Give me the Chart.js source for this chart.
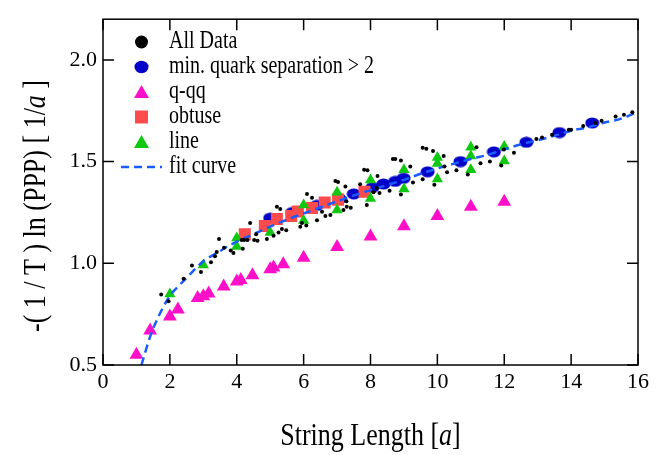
<!DOCTYPE html>
<html>
<head>
<meta charset="utf-8">
<script src="https://cdn.jsdelivr.net/npm/chart.js@4/dist/chart.umd.min.js"></script>
<style>
  body { margin: 0; background: #fff; }
  canvas { display: block; }
</style>
</head>
<body>
<canvas id="myChart" width="665" height="455"></canvas>
<script>
// tick labels
const xTicks = [0, 2, 4, 6, 8, 10, 12, 14, 16];
const yTicks = [0.5, 1.0, 1.5, 2.0];

// All Data (small black dots)
const allX = [1.74, 1.96, 2.41, 2.66, 2.93, 3.23, 3.35, 3.40, 3.47, 3.62, 3.82, 3.90, 4.18, 4.15, 4.22, 4.32,
  4.40, 4.52, 4.62, 4.58, 4.90, 5.10, 5.25, 5.35, 5.48, 5.20, 5.30, 5.90, 5.95, 6.08, 6.10, 6.25,
  6.40, 6.55, 6.65, 6.80, 6.95, 7.03, 7.19, 7.29, 7.41, 7.28, 7.25, 7.69, 7.81, 7.91, 7.89, 8.09,
  8.21, 8.19, 8.27, 8.57, 8.67, 8.74, 8.91, 8.91, 9.19, 9.27, 9.56, 9.67, 9.56, 9.87, 9.91, 10.19,
  10.21, 10.29, 10.57, 10.91, 11.17, 11.29, 11.57, 11.91, 11.99, 12.29, 12.96, 13.13, 13.43, 13.93,
  14.00, 14.36, 14.73, 14.91, 15.33, 15.58, 15.83];
const allY = [0.846, 0.813, 0.924, 0.989, 0.957, 1.005, 1.035, 1.056, 1.119, 1.076, 1.063, 1.050, 1.071, 1.114, 1.114, 1.114,
  1.198, 1.114, 1.111, 1.143, 1.119, 1.135, 1.151, 1.169, 1.162, 1.278, 1.267, 1.180, 1.198, 1.186, 1.341, 1.322,
  1.211, 1.254, 1.233, 1.238, 1.405, 1.400, 1.262, 1.278, 1.273, 1.305, 1.378, 1.389, 1.460, 1.457, 1.286, 1.349,
  1.429, 1.370, 1.346, 1.357, 1.513, 1.513, 1.505, 1.338, 1.476, 1.397, 1.568, 1.563, 1.413, 1.552, 1.386, 1.527,
  1.476, 1.448, 1.457, 1.436, 1.571, 1.492, 1.500, 1.481, 1.559, 1.543, 1.611, 1.619, 1.632, 1.656,
  1.656, 1.675, 1.690, 1.701, 1.722, 1.730, 1.743];

// min. quark separation > 2
const minSepX = [5.00, 5.66, 6.40, 7.07, 7.50, 8.06, 8.39, 8.74, 8.99, 9.71, 10.69, 11.69, 12.66, 13.65, 14.63];
const minSepY = [1.222, 1.250, 1.285, 1.317, 1.341, 1.373, 1.390, 1.403, 1.418, 1.450, 1.500, 1.548, 1.595, 1.643, 1.690];

// q-qq
const qqqX = [1.00, 1.41, 2.00, 2.24, 2.83, 3.00, 3.16, 3.61, 4.00, 4.12, 4.47, 5.00, 5.10, 5.39, 6.00, 7.00, 8.00, 9.00, 10.00, 11.00, 12.00];
const qqqY = [0.551, 0.670, 0.738, 0.773, 0.829, 0.838, 0.852, 0.886, 0.910, 0.918, 0.941, 0.971, 0.979, 0.995, 1.027, 1.080, 1.132, 1.182, 1.233, 1.278, 1.303];

// obtuse
const obtuseX = [4.24, 4.84, 5.20, 5.63, 5.83, 6.25, 6.63, 7.03, 7.82];
const obtuseY = [1.143, 1.183, 1.218, 1.233, 1.255, 1.272, 1.299, 1.313, 1.352];

// line
const lineX = [2, 3, 4, 4, 5, 6, 6, 7, 7, 8, 8, 9, 9, 10, 10, 10, 11, 11, 11, 12, 12];
const lineY = [0.849, 0.992, 1.124, 1.082, 1.151, 1.286, 1.210, 1.349, 1.262, 1.410, 1.318, 1.460, 1.365, 1.520, 1.490, 1.415, 1.571, 1.527, 1.460, 1.574, 1.503];

// fit curve
const fitX = [1.15, 1.40, 1.65, 2.00, 2.30, 2.55, 3.00, 3.40, 3.70, 4.05, 4.50, 5.00, 5.50, 6.00, 6.50, 7.00, 7.50,
  8.00, 8.50, 9.00, 9.50, 10.00, 10.50, 11.00, 11.50, 12.00, 12.50, 13.00, 13.50, 14.00, 14.50, 15.00, 15.50, 16.00];
const fitY = [0.500, 0.635, 0.735, 0.840, 0.895, 0.937, 1.010, 1.050, 1.080, 1.110, 1.143, 1.180, 1.215, 1.245, 1.275, 1.305, 1.333,
  1.360, 1.385, 1.410, 1.440, 1.466, 1.490, 1.513, 1.533, 1.560, 1.585, 1.605, 1.627, 1.652, 1.668, 1.692, 1.711, 1.745];

const seriesNames = ['All Data', 'min. quark separation > 2', 'q-qq', 'obtuse', 'line', 'fit curve'];

const BLACK = '#000000';
const BLUE = '#0000c8';
const PINK = '#ff10c8';
const RED = '#ff4b4b';
const GREEN = '#10c810';
const FIT = '#1a5cff';

const pts = (xs, ys) => xs.map((x, i) => ({ x: x, y: ys[i] }));

// ellipse marker for the blue points
function ellipseImage(w, h, color) {
    const c = document.createElement('canvas');
    c.width = w; c.height = h;
    const g = c.getContext('2d');
    g.fillStyle = color;
    g.beginPath();
    g.ellipse(w / 2, h / 2, w / 2 - 0.5, h / 2 - 0.5, 0, 0, Math.PI * 2);
    g.fill();
    return c;
}

// text with mixed roman / italic parts, slightly stretched like the original
function drawParts(ctx, parts, size, x, y, align, rot) {
    ctx.save();
    ctx.translate(x, y);
    if (rot) ctx.rotate(rot);
    ctx.scale(1, 1.22);
    const fontOf = st => st + ' ' + size + 'px "Liberation Serif", "Times New Roman", serif';
    let w = 0;
    parts.forEach(p => { ctx.font = fontOf(p[1]); w += ctx.measureText(p[0]).width; });
    let xx = align === 'center' ? -w / 2 : 0;
    ctx.fillStyle = '#000';
    ctx.textBaseline = 'middle';
    ctx.textAlign = 'left';
    parts.forEach(p => {
        ctx.font = fontOf(p[1]);
        ctx.fillText(p[0], xx, 0);
        xx += ctx.measureText(p[0]).width;
    });
    ctx.restore();
}

const framePlugin = {
    id: 'frame',
    afterDraw(chart) {
        const { ctx, chartArea: a, scales } = chart;
        const sx = scales.x, sy = scales.y;
        ctx.save();
        // box
        ctx.strokeStyle = '#000';
        ctx.lineWidth = 1.5;
        ctx.strokeRect(a.left, a.top, a.right - a.left, a.bottom - a.top);
        // inward ticks on all four sides
        ctx.beginPath();
        xTicks.forEach(v => {
            const p = sx.getPixelForValue(v);
            ctx.moveTo(p, a.bottom); ctx.lineTo(p, a.bottom - 11);
            ctx.moveTo(p, a.top); ctx.lineTo(p, a.top + 11);
        });
        yTicks.forEach(v => {
            const p = sy.getPixelForValue(v);
            ctx.moveTo(a.left, p); ctx.lineTo(a.left + 11, p);
            ctx.moveTo(a.right, p); ctx.lineTo(a.right - 11, p);
        });
        ctx.stroke();

        // legend
        const mx = 141.5, tx = 169;
        seriesNames.forEach((name, i) => {
            const cy = 42 + i * 25;
            ctx.fillStyle = '#000';
            ctx.beginPath();
            if (i === 0) {
                ctx.fillStyle = BLACK;
                ctx.arc(mx, cy, 6.5, 0, Math.PI * 2);
                ctx.fill();
            } else if (i === 1) {
                ctx.fillStyle = BLUE;
                ctx.ellipse(mx, cy, 7, 6.2, 0, 0, Math.PI * 2);
                ctx.fill();
            } else if (i === 2 || i === 4) {
                ctx.fillStyle = i === 2 ? PINK : GREEN;
                ctx.moveTo(mx, cy - 7);
                ctx.lineTo(mx + 7.5, cy + 6);
                ctx.lineTo(mx - 7.5, cy + 6);
                ctx.closePath();
                ctx.fill();
            } else if (i === 3) {
                ctx.fillStyle = RED;
                ctx.fillRect(mx - 6.5, cy - 6.5, 13, 13);
            } else {
                ctx.strokeStyle = FIT;
                ctx.lineWidth = 2.5;
                ctx.setLineDash([8, 5]);
                ctx.moveTo(121, cy);
                ctx.lineTo(162, cy);
                ctx.stroke();
                ctx.setLineDash([]);
            }
            drawParts(ctx, [[name, 'normal']], 20, tx, cy, 'left');
        });

        // axis titles
        drawParts(ctx, [['String Length [', 'normal'], ['a', 'italic'], [']', 'normal']], 26,
            (a.left + a.right) / 2, 437, 'center');
        drawParts(ctx, [['-( 1 / T ) ln (PPP) [ 1/', 'normal'], ['a', 'italic'], [' ]', 'normal']], 26,
            37, 206, 'center', -Math.PI / 2);
        ctx.restore();
    }
};

const tickFont = { family: '"Liberation Serif", "Times New Roman", serif', size: 22 };

const ctx = document.getElementById('myChart').getContext('2d');
const chart = new Chart(ctx, {
    type: 'scatter',
    data: {
        datasets: [
            { label: seriesNames[0], data: pts(allX, allY), order: 0,
              pointStyle: 'circle', pointRadius: 2, pointBorderWidth: 0, backgroundColor: BLACK },
            { label: seriesNames[5], data: pts(fitX, fitY), order: 1, showLine: true,
              borderColor: FIT, borderWidth: 2.5, borderDash: [8, 5], pointRadius: 0,
              cubicInterpolationMode: 'monotone', fill: false },
            { label: seriesNames[4], data: pts(lineX, lineY), order: 2,
              pointStyle: 'triangle', pointRadius: 6.5, pointBorderWidth: 0, backgroundColor: GREEN },
            { label: seriesNames[3], data: pts(obtuseX, obtuseY), order: 3,
              pointStyle: 'rect', pointRadius: 8.5, pointBorderWidth: 0, backgroundColor: RED },
            { label: seriesNames[2], data: pts(qqqX, qqqY), order: 4,
              pointStyle: 'triangle', pointRadius: 8, pointBorderWidth: 0, backgroundColor: PINK },
            { label: seriesNames[1], data: pts(minSepX, minSepY), order: 5,
              pointStyle: ellipseImage(15, 12, BLUE), pointRadius: 7, backgroundColor: BLUE }
        ]
    },
    options: {
        responsive: false,
        animation: false,
        events: [],
        layout: { padding: { top: 8, right: 27, left: 0, bottom: 0 } },
        plugins: {
            legend: { display: false },
            tooltip: { enabled: false }
        },
        scales: {
            x: {
                type: 'linear', min: 0, max: 16,
                afterBuildTicks: s => { s.ticks = xTicks.map(v => ({ value: v })); },
                afterFit: s => { s.height = 90; },
                grid: { display: false, drawTicks: false },
                border: { display: false },
                ticks: { font: tickFont, color: '#000', padding: 4, maxRotation: 0,
                         callback: v => String(v) }
            },
            y: {
                type: 'linear', min: 0.5, max: 2.2,
                afterBuildTicks: s => { s.ticks = yTicks.map(v => ({ value: v })); },
                afterFit: s => { s.width = 103; },
                grid: { display: false, drawTicks: false },
                border: { display: false },
                ticks: { font: tickFont, color: '#000', padding: 6,
                         callback: v => Number(v).toFixed(1) }
            }
        }
    },
    plugins: [framePlugin]
});
</script>
</body>
</html>
